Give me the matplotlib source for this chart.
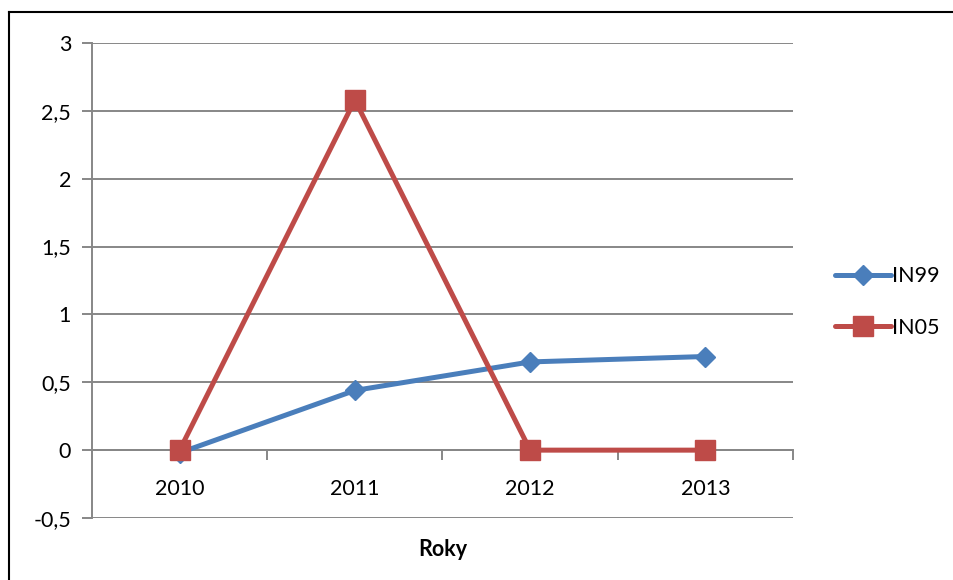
import matplotlib
matplotlib.use("Agg")
import matplotlib.pyplot as plt
from matplotlib.lines import Line2D

years = ["2010", "2011", "2012", "2013"]
in99 = [-0.02, 0.44, 0.65, 0.69]
in05 = [0.0, 2.58, 0.0, 0.0]
y_ticks = [-0.5, 0, 0.5, 1, 1.5, 2, 2.5, 3]
y_labels = ["-0,5", "0", "0,5", "1", "1,5", "2", "2,5", "3"]

plt.rcParams["font.family"] = ["Lato", "DejaVu Sans"]

blue = "#4A7EBB"
red = "#BE4B48"
grid_c = "#878787"
fs = 15.5

fig = plt.figure(figsize=(9.54, 5.8), dpi=100)
ax = fig.add_axes([92 / 954, 1 - 518 / 580, (793 - 92) / 954, (518 - 43) / 580])

x = list(range(len(years)))
ax.plot(x, in99, color=blue, lw=3.6, marker="D", ms=10, mfc=blue, mec=blue,
        solid_capstyle="round", label="IN99", zorder=3)
ax.plot(x, in05, color=red, lw=3.6, marker="s", ms=14, mfc=red, mec=red,
        solid_capstyle="round", label="IN05", zorder=4)

ax.set_xlim(-0.5, len(years) - 0.5)
ax.set_ylim(-0.5, 3)
ax.set_yticks(y_ticks)
ax.set_yticklabels(y_labels, fontsize=fs)
ax.yaxis.grid(True, color=grid_c, lw=1.4)
ax.set_axisbelow(True)

# category axis crosses at zero, with ticks between categories
ax.spines["bottom"].set_position(("data", 0))
ax.spines["bottom"].set_color(grid_c)
ax.spines["bottom"].set_linewidth(1.4)
ax.spines["left"].set_color(grid_c)
ax.spines["left"].set_linewidth(1.4)
ax.spines["top"].set_visible(False)
ax.spines["right"].set_visible(False)

ax.set_xticks([i - 0.5 for i in range(len(years) + 1)])
ax.set_xticklabels([])
ax.set_xticks(x, minor=True)
ax.set_xticklabels(years, minor=True, fontsize=fs)
ax.tick_params(axis="x", which="major", length=7, width=1.4, color=grid_c, direction="out")
ax.tick_params(axis="x", which="minor", length=0, pad=21)
ax.tick_params(axis="y", length=7, width=1.4, color=grid_c, pad=8)

ax.text(0.5, -0.045, "Roky", transform=ax.transAxes, ha="center", va="top",
        fontsize=fs, fontweight="bold")

handles = [
    Line2D([], [], color=blue, lw=3.6, marker="D", ms=10, solid_capstyle="round"),
    Line2D([], [], color=red, lw=3.6, marker="s", ms=14, solid_capstyle="round"),
]
fig.legend(handles, ["IN99", "IN05"], loc="center left",
           bbox_to_anchor=(826 / 954, 1 - 302 / 580), frameon=False,
           fontsize=fs, handlelength=2.6, handletextpad=0.05, labelspacing=1.45,
           borderaxespad=0)

# outer chart frame (left and top edges)
fig.add_artist(Line2D([9 / 954, 9 / 954], [0, 1 - 12 / 580], color="black", lw=1.5,
                      transform=fig.transFigure))
fig.add_artist(Line2D([9 / 954, 1], [1 - 12 / 580, 1 - 12 / 580], color="black", lw=1.5,
                      transform=fig.transFigure))

fig.savefig("out.png", dpi=100)
